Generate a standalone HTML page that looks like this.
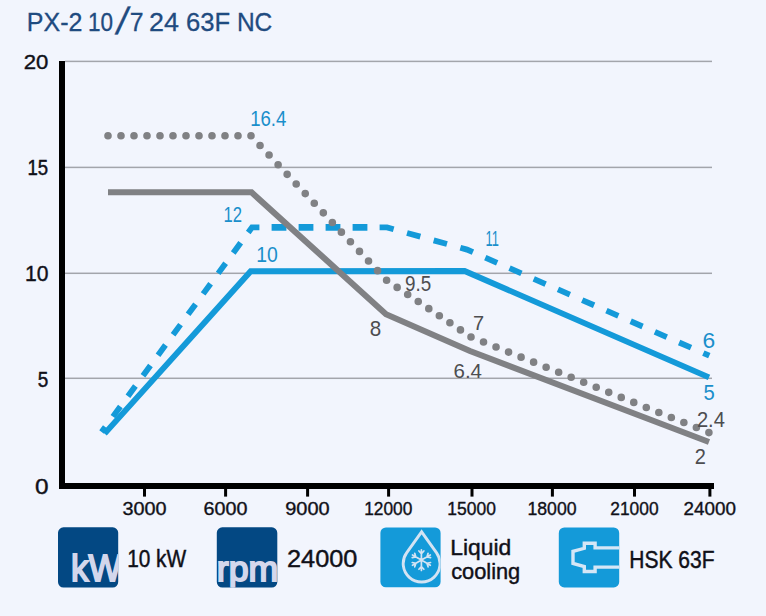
<!DOCTYPE html>
<html><head><meta charset="utf-8"><title>PX-2 10/7 24 63F NC</title>
<style>html,body{margin:0;padding:0;background:#f2f5fd;width:766px;height:616px;overflow:hidden}svg{display:block}</style>
</head><body>
<svg width="766" height="616" viewBox="0 0 766 616" font-family="'Liberation Sans', sans-serif">
<rect width="766" height="616" fill="#f2f5fd"/>
<rect x="65" y="60.65" width="647" height="1.5" fill="#a3a5ab"/><rect x="65" y="166.65" width="647" height="1.5" fill="#a3a5ab"/><rect x="65" y="272.55" width="647" height="1.5" fill="#a3a5ab"/><rect x="65" y="377.55" width="647" height="1.5" fill="#a3a5ab"/>
<rect x="59" y="61" width="6" height="428" fill="#000"/>
<rect x="59" y="483" width="655" height="6" fill="#000"/>
<rect x="143.00" y="486" width="3" height="10.6" fill="#000"/><rect x="224.10" y="486" width="3" height="10.6" fill="#000"/><rect x="306.10" y="486" width="3" height="10.6" fill="#000"/><rect x="387.10" y="486" width="3" height="10.6" fill="#000"/><rect x="470.50" y="486" width="3" height="10.6" fill="#000"/><rect x="550.90" y="486" width="3" height="10.6" fill="#000"/><rect x="633.00" y="486" width="3" height="10.6" fill="#000"/><rect x="708.40" y="486" width="3" height="10.6" fill="#000"/>
<path d="M104.60,433.60 L250.70,271.30 L464.60,271.00 L709.00,377.40" fill="none" stroke="#149ad9" stroke-width="5.9" stroke-linejoin="miter"/>
<path d="M101.60,432.00 L105.33,426.92 M248.27,232.48 L252.00,227.40 L259.40,227.40 M379.60,227.40 L387.00,227.40 L393.65,229.25 M460.35,247.75 L467.00,249.60 L472.95,252.21 M703.35,353.09 L709.30,355.70 M112.91,416.62 L120.37,406.46 M127.95,396.16 L135.41,386.00 M142.99,375.70 L150.45,365.54 M158.03,355.24 L165.49,345.08 M173.07,334.78 L180.53,324.62 M188.11,314.32 L195.57,304.16 M203.15,293.86 L210.61,283.70 M218.19,273.40 L225.65,263.24 M233.23,252.94 L240.69,242.78 M407.02,232.95 L420.32,236.65 M433.68,240.35 L446.98,244.05 M485.28,257.60 L497.18,262.82 M509.51,268.21 L521.41,273.43 M533.74,278.82 L545.64,284.04 M557.97,289.43 L569.87,294.65 M582.20,300.04 L594.10,305.26 M606.43,310.65 L618.33,315.87 M630.66,321.26 L642.56,326.48 M654.89,331.87 L666.79,337.09 M679.12,342.48 L691.02,347.70" fill="none" stroke="#149ad9" stroke-width="5.8" stroke-linejoin="miter"/>
<path d="M271.60,227.40 L286.40,227.40 M298.60,227.40 L313.40,227.40 M325.60,227.40 L340.40,227.40 M352.60,227.40 L367.40,227.40" fill="none" stroke="#149ad9" stroke-width="6.6"/>
<path d="M108.00,192.25 L251.50,192.25 L386.00,314.20 L470.00,351.00 L709.00,442.00" fill="none" stroke="#808184" stroke-width="6.1" stroke-linejoin="miter"/>
<path d="M108.00,135.80 h0 M121.00,135.80 h0 M134.00,135.80 h0 M147.00,135.80 h0 M160.00,135.80 h0 M173.00,135.80 h0 M186.00,135.80 h0 M199.00,135.80 h0 M212.00,135.80 h0 M225.00,135.80 h0 M238.00,135.80 h0 M251.00,135.80 h0 M260.04,145.43 h0 M269.08,155.07 h0 M278.12,164.70 h0 M287.16,174.33 h0 M296.20,183.97 h0 M305.24,193.60 h0 M314.28,203.23 h0 M323.32,212.87 h0 M332.36,222.50 h0 M341.40,232.13 h0 M350.44,241.77 h0 M359.48,251.40 h0 M368.52,261.03 h0 M377.56,270.67 h0 M386.60,280.30 h0 M397.15,287.39 h0 M407.70,294.48 h0 M418.25,301.56 h0 M428.80,308.65 h0 M439.35,315.74 h0 M449.90,322.82 h0 M460.45,329.91 h0 M471.00,337.00 h0 M483.52,342.03 h0 M496.04,347.06 h0 M508.56,352.09 h0 M521.08,357.13 h0 M533.61,362.16 h0 M546.13,367.19 h0 M558.65,372.22 h0 M571.17,377.25 h0 M583.69,382.28 h0 M596.21,387.32 h0 M608.73,392.35 h0 M621.25,397.38 h0 M633.77,402.41 h0 M646.29,407.44 h0 M658.82,412.47 h0 M671.34,417.51 h0 M683.86,422.54 h0 M696.38,427.57 h0 M708.90,432.60 h0" fill="none" stroke="#808184" stroke-width="7.6" stroke-linecap="round"/>
<text transform="translate(23.69,69.00) scale(1.0623,1)" font-size="20.86" fill="#101018" stroke="#101018" stroke-width="0.40">20</text><text transform="translate(27.51,174.60) scale(0.8724,1)" font-size="21.30" fill="#101018" stroke="#101018" stroke-width="0.46">15</text><text transform="translate(25.11,281.00) scale(0.9659,1)" font-size="21.86" fill="#101018" stroke="#101018" stroke-width="0.41">10</text><text transform="translate(37.84,387.00) scale(0.8550,1)" font-size="22.17" fill="#101018" stroke="#101018" stroke-width="0.47">5</text><text transform="translate(35.02,494.00) scale(1.1152,1)" font-size="21.86" fill="#101018" stroke="#101018" stroke-width="0.40">0</text><text transform="translate(250.21,125.80) scale(0.8732,1)" font-size="21.29" fill="#1a8fcb">16.4</text><text transform="translate(223.57,221.60) scale(0.7762,1)" font-size="21.43" fill="#1a8fcb">12</text><text transform="translate(256.25,261.90) scale(0.8702,1)" font-size="22.29" fill="#1a8fcb">10</text><text transform="translate(485.57,245.70) scale(0.5994,1)" font-size="21.45" fill="#1a8fcb">11</text><text transform="translate(702.56,348.40) scale(1.0309,1)" font-size="22.14" fill="#1a8fcb">6</text><text transform="translate(703.49,399.60) scale(0.9054,1)" font-size="22.32" fill="#1a8fcb">5</text><text transform="translate(404.96,291.20) scale(0.8457,1)" font-size="22.29" fill="#4d4d50">9.5</text><text transform="translate(369.77,336.30) scale(0.9086,1)" font-size="22.71" fill="#4d4d50">8</text><text transform="translate(473.00,329.70) scale(0.9722,1)" font-size="20.57" fill="#4d4d50">7</text><text transform="translate(453.47,378.30) scale(0.9778,1)" font-size="21.00" fill="#4d4d50">6.4</text><text transform="translate(696.89,427.10) scale(0.9043,1)" font-size="22.29" fill="#4d4d50">2.4</text><text transform="translate(694.80,463.60) scale(0.9333,1)" font-size="21.43" fill="#4d4d50">2</text><text transform="translate(127.13,566.50) scale(0.8792,1)" font-size="23.70" fill="#101018" stroke="#101018" stroke-width="0.45">10 kW</text><text transform="translate(287.03,566.50) scale(1.0675,1)" font-size="23.71" fill="#101018" stroke="#101018" stroke-width="0.40">24000</text><text transform="translate(450.17,554.50) scale(1.0579,1)" font-size="21.64" fill="#101018" stroke="#101018" stroke-width="0.40">Liquid</text><text transform="translate(451.13,579.20) scale(1.0281,1)" font-size="21.23" fill="#101018" stroke="#101018" stroke-width="0.40">cooling</text><text transform="translate(629.22,567.90) scale(0.9092,1)" font-size="23.14" fill="#101018" stroke="#101018" stroke-width="0.44">HSK 63F</text><text transform="translate(122.38,514.83) scale(1.0977,1)" font-size="18.07" fill="#101018" stroke="#101018" stroke-width="0.35">3000</text><text transform="translate(203.49,514.83) scale(1.0925,1)" font-size="18.07" fill="#101018" stroke="#101018" stroke-width="0.35">6000</text><text transform="translate(285.23,514.83) scale(1.1054,1)" font-size="18.07" fill="#101018" stroke="#101018" stroke-width="0.35">9000</text><text transform="translate(364.19,514.83) scale(0.9580,1)" font-size="18.07" fill="#101018" stroke="#101018" stroke-width="0.37">12000</text><text transform="translate(447.33,514.83) scale(0.9684,1)" font-size="18.07" fill="#101018" stroke="#101018" stroke-width="0.36">15000</text><text transform="translate(527.46,514.83) scale(0.9788,1)" font-size="18.07" fill="#101018" stroke="#101018" stroke-width="0.36">18000</text><text transform="translate(610.26,514.83) scale(0.9617,1)" font-size="18.07" fill="#101018" stroke="#101018" stroke-width="0.36">21000</text><text transform="translate(683.58,514.83) scale(1.0440,1)" font-size="18.07" fill="#101018" stroke="#101018" stroke-width="0.35">24000</text><text transform="translate(26.85,30.65) scale(0.9469,1)" font-size="26.43" fill="#1f4b80" stroke="#1f4b80" stroke-width="0.32">PX-2</text><text transform="translate(87.95,30.65) scale(0.8523,1)" font-size="26.43" fill="#1f4b80" stroke="#1f4b80" stroke-width="0.35">10</text><text transform="translate(129.71,30.65) scale(0.9377,1)" font-size="26.43" fill="#1f4b80" stroke="#1f4b80" stroke-width="0.32">7</text><text transform="translate(149.11,30.65) scale(1.0176,1)" font-size="26.43" fill="#1f4b80" stroke="#1f4b80" stroke-width="0.30">24</text><text transform="translate(186.07,30.65) scale(0.9703,1)" font-size="26.43" fill="#1f4b80" stroke="#1f4b80" stroke-width="0.31">63F</text><text transform="translate(236.89,30.65) scale(0.9287,1)" font-size="26.43" fill="#1f4b80" stroke="#1f4b80" stroke-width="0.32">NC</text><text transform="translate(114.65,34.0) skewX(-11)" font-size="38.1" fill="#1f4b80" stroke="#1f4b80" stroke-width="0.3">/</text>

<rect x="58" y="527.3" width="60.2" height="60.3" rx="5.5" fill="#034883"/>
<rect x="216.8" y="527.3" width="60.5" height="60.3" rx="5.5" fill="#034883"/>
<rect x="380.4" y="527.5" width="60.2" height="59.8" rx="5.5" fill="#149ad9"/>
<rect x="558.8" y="527.5" width="60.4" height="59.9" rx="5.5" fill="#149ad9"/>
<clipPath id="c1"><rect x="58" y="527.3" width="60.2" height="60.3" rx="5.5"/></clipPath>
<clipPath id="c2"><rect x="216.8" y="527.3" width="60.5" height="60.3" rx="5.5"/></clipPath>
<clipPath id="c3"><rect x="380.4" y="527.5" width="60.2" height="59.8" rx="5.5"/></clipPath>
<clipPath id="c4"><rect x="558.8" y="527.5" width="60.4" height="59.9" rx="5.5"/></clipPath>
<g clip-path="url(#c1)"><text transform="translate(71.10,581.30) scale(0.9318,1)" font-size="37.60" fill="#d3d7ec" stroke="#d3d7ec" stroke-width="1.90">kW</text></g><g clip-path="url(#c2)"><text transform="translate(216.75,580.60) scale(0.9969,1)" font-size="35.83" fill="#d3d7ec" stroke="#d3d7ec" stroke-width="1.90">rpm</text></g><g clip-path="url(#c3)"><path d="M421.6,531.8 L406.6,552.95 A18.4,18.4 0 1 0 436.6,552.95 Z" fill="none" stroke="#d3e3f3" stroke-width="2.9" stroke-linejoin="miter"/><path d="M421.40,560.10 L421.40,549.80 M421.40,553.71 L423.88,550.96 M421.40,553.71 L418.92,550.96 M421.40,560.10 L412.48,554.95 M415.87,556.91 L414.72,553.38 M415.87,556.91 L412.24,557.68 M421.40,560.10 L412.48,565.25 M415.87,563.29 L412.24,562.52 M415.87,563.29 L414.72,566.82 M421.40,560.10 L421.40,570.40 M421.40,566.49 L418.92,569.24 M421.40,566.49 L423.88,569.24 M421.40,560.10 L430.32,565.25 M426.93,563.29 L428.08,566.82 M426.93,563.29 L430.56,562.52 M421.40,560.10 L430.32,554.95 M426.93,556.91 L430.56,557.68 M426.93,556.91 L428.08,553.38" fill="none" stroke="#d3e3f3" stroke-width="1.7" stroke-linecap="round"/></g><g clip-path="url(#c4)"><path d="M622,547.9 H595.1 V543.3 H584.3 V548.3 L573,551.4 V563.4 L584.3,566.6 V571.5 H595.1 V567.1 H622" fill="none" stroke="#d5e6f6" stroke-width="3.4" stroke-linejoin="miter"/></g>
</svg>
</body></html>
